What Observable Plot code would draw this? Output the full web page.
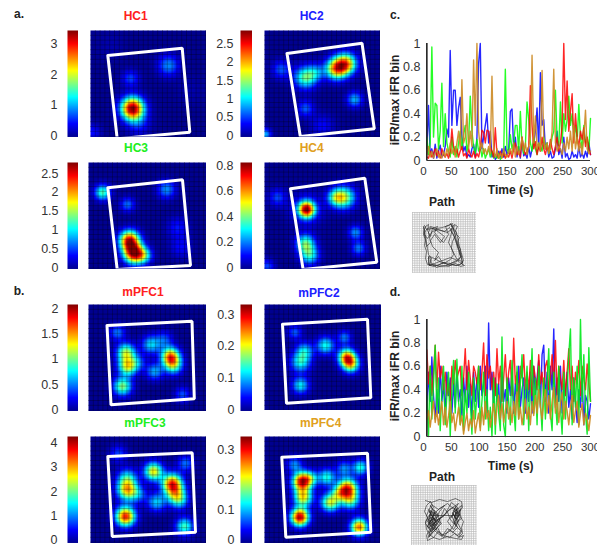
<!DOCTYPE html>
<html><head><meta charset="utf-8">
<script src="https://cdn.jsdelivr.net/npm/d3@7"></script>
<script src="https://cdn.jsdelivr.net/npm/@observablehq/plot@0.6"></script>
<style>
html,body{margin:0;padding:0;background:#fff;overflow:hidden}
#c{position:relative;width:597px;height:547px;overflow:hidden;font-family:"Liberation Sans",Arial,sans-serif}
#c svg{position:absolute;background:transparent}
.t{position:absolute;transform:translate(-50%,-50%);font-weight:bold;font-size:12px;white-space:nowrap;line-height:1}
</style></head><body><div id="c"></div>
<script>
// Firing-rate fields: each blob is [x, y, peak rate, spread], in arena units
const hc1Blobs=[[42,78,3.4,8],[78,35,.9,7.5],[40,48,.65,6],[48,93,.5,8],[2,102,.45,6],[20,15,.12,10],[100,60,.12,10]];
const hc2Blobs=[[71.5,38.3,1.95,7.4],[81.5,33.3,1.95,7.4],[41,47,1.35,7.8],[51.5,41.7,.6,6],[16.5,39,.6,6.5],[90,69,.85,5.6],[41,78,.6,6],[58,95,.35,8],[1,104,.85,4]];
const hc3Blobs=[[41,78,2.45,7],[45,91,2.45,7],[55,93,1.05,6],[14,30,1.25,5.5],[78,27,.75,6.5],[39,42,.65,5.2],[89,65,.4,7.5],[92,85,.35,7.5]];
const hc4Blobs=[[42,47,.7,5.6],[42,47,.15,11],[80,35,.42,7.8],[71,35,.3,6],[41,81,.38,6.6],[45,93,.32,6.6],[13,35,.16,6.2],[91,70,.22,5.2],[94,86,.2,5.2],[3,104,.16,5]];
const pfc1Blobs=[[82,52,1.5,6.4],[85,61,.9,6.4],[37.5,48,1.1,6.5],[39,62,1.2,6.5],[34,82,1.05,6.5],[29,28,.5,5.5],[62.5,40,.7,6.5],[66,67,.6,6],[94,90,.42,5.5],[49,58,.4,6],[76,35,.4,6]];
const pfc2Blobs=[[82.3,52.5,.23,6],[86.3,60,.18,6],[61,41,.13,6.2],[36,58,.125,7],[40,46.5,.105,6.2],[36,81,.12,6],[30.5,28,.07,5],[80,33,.08,5]];
const pfc3Blobs=[[81.7,47.3,3.5,7],[85.7,59,2.0,7],[35,80,3.7,6.8],[36.7,54,2.7,7],[36.7,42,1.6,7],[63,35,2.7,6.5],[66,65.7,1.4,6.4],[94,90,1.9,6.2],[95,27,1,5.8],[28,17,.8,6],[48,58,.9,6],[90,65,.8,6]];
const pfc4Blobs=[[37.3,45,.31,6.5],[46.3,42,.11,5.5],[38.6,60.7,.22,6.5],[35.3,80.7,.33,6.3],[83,52,.28,7],[86,64,.15,6.5],[65.6,66,.2,6.5],[74.6,57,.11,5.5],[62.3,40.7,.14,6],[96,31,.14,5.5],[94.6,90.7,.27,6],[30,28,.09,5.5],[79.6,32,.09,5.5]];

// Arena outlines (white box) in arena units
const hc1Box=[[17.3,25],[91.7,17.7],[99.3,101.7],[26.7,108.3]];
const hc2Box=[[22.5,23],[97.5,12.7],[109.8,98.3],[35.8,106]];
const hc3Box=[[19.3,25.3],[94,17.3],[102,103],[28.7,107]];
const hc4Box=[[26,26.3],[100.3,15.7],[112.3,99.7],[38.6,107]];
const pfc1Box=[[18.5,21],[103.5,16.7],[105.8,94.3],[22.5,100.3]];
const pfc2Box=[[18,19.8],[103,14.8],[106.3,93.2],[22,98.8]];
const pfc3Box=[[17.3,20],[101.7,16.3],[105,95.7],[21.7,100]];
const pfc4Box=[[17.3,20.7],[103,16.7],[106.3,95.7],[21.3,100.7]];

// Colour-bar maxima and tick labels
const hc1Max=3.47, hc2Max=2.88, hc3Max=2.82, hc4Max=.835, pfc1Max=2.1, pfc2Max=.335, pfc3Max=4.36, pfc4Max=.355;
const hc1Ticks=[0,1,2,3], hc2Ticks=[0,.5,1,1.5,2,2.5], hc3Ticks=[0,.5,1,1.5,2,2.5], hc4Ticks=[0,.2,.4,.6,.8];
const pfc1Ticks=[0,.5,1,1.5,2], pfc2Ticks=[0,.1,.2,.3], pfc3Ticks=[0,1,2,3,4], pfc4Ticks=[0,.1,.2,.3];

// Jet colour ramp
const jetStops=[0,.125,.375,.625,.875,1];
const jetColors=["#00008f","#0000ff","#00ffff","#ffff00","#ff0000","#800000"];

// Instantaneous firing rate traces, 3 s apart from t = 6 s
const cBlue=[.10,.47,.05,.10,.02,.14,.02,.08,.13,.03,.05,.12,.27,.20,.94,.30,.60,.60,.30,.45,.54,.20,.08,.12,.03,.05,.03,.10,.14,.03,.20,.83,1.0,.10,.20,.30,.40,.15,.25,.03,.06,.01,.03,.08,.03,.10,.03,.12,.05,.08,.42,.44,.10,.20,.03,.12,.02,.20,.04,.06,.02,.12,.03,.10,.15,.25,.45,.10,.75,.30,.35,.10,.15,.03,.08,.02,.03,.10,.25,.05,.10,.02,.20,.03,.06,.01,.02,.08,.03,.05,.02,.12,.03,.06,.02,.08,.03,.15,.05];
const cGreen=[.20,.05,.15,.97,.20,.49,.47,.10,.25,.66,.12,.40,.15,.08,.03,.20,.05,.12,.03,.15,.25,.10,.22,.30,.08,.15,.55,.25,.12,.06,.18,.08,.12,.03,.10,.02,.06,.10,.03,.08,.02,.05,.02,.06,.01,.03,.05,.78,.10,.06,.22,.10,.15,.30,.30,.08,.42,.12,.06,.12,.50,.35,.15,.08,.20,.10,.05,.15,.12,.08,.20,.10,.15,.06,.10,.20,.25,.60,.18,.12,.50,.15,.40,.25,.35,.55,.30,.40,.20,.30,.15,.48,.20,.10,.30,.15,.20,.08,.36];
const cRed=[.03,.02,.08,.03,.06,.10,.04,.08,.02,.10,.05,.03,.06,.02,.08,.27,.12,.05,.10,.03,.08,.12,.04,.06,.02,.10,.05,.03,.08,.02,.06,.03,.10,.26,.24,.15,.26,.25,.12,.08,.03,.28,.05,.02,.08,.03,.06,.02,.05,.03,.08,.02,.10,.15,.05,.08,.03,.20,.10,.05,.08,.12,.64,.30,.10,.16,.05,.12,.08,.20,.10,.05,.12,.08,.18,.10,.05,.12,.20,.08,.15,.30,1.0,.35,.68,.25,.42,.57,.15,.40,.20,.12,.25,.18,.28,.12,.20,.10,.05];
const cOrange=[.05,.12,.03,.08,.02,.06,.10,.03,.05,.02,.08,.03,.10,.05,.15,.06,.10,.03,.15,.25,.10,.69,.15,.20,.40,.10,.25,.12,.86,.30,1.0,.25,.10,.15,.06,.10,.05,.12,.06,.72,.08,.03,.10,.02,.06,.02,.10,.05,.03,.08,.10,.05,.15,.03,.12,.05,.10,.20,.08,.15,.05,.12,.20,.90,.15,.38,.10,.15,.08,.77,.20,.10,.15,.06,.12,.25,.78,.15,.08,.12,.10,.05,.15,.08,.20,.10,.25,.08,.30,.10,.20,.08,.15,.05,.20,.43,.10,.06,.08];
const dBlue=[.20,.55,.30,.68,.35,.15,.40,.20,.60,.30,.45,.20,.55,.35,.50,.20,.45,.25,.55,.30,.40,.18,.50,.30,.60,.25,.45,.15,.55,.30,.50,.25,.60,.35,.45,.60,.20,.97,.40,.55,.25,.50,.30,.45,.15,.55,.30,.40,.20,.50,.35,.55,.20,.45,.30,.60,.25,.40,.50,.20,.45,.30,.55,.20,.60,.35,.50,.65,.25,.70,.78,.30,.55,.20,.60,.40,.92,.25,.50,.30,.60,.20,.45,.35,.55,.25,.40,.15,.50,.30,.12,.40,.25,.50,.10,.35,.30,.15,.28];
const dRed=[.74,.45,.60,.35,.55,.78,.40,.72,.50,.60,.40,.55,.35,.45,.30,.60,.45,.65,.50,.55,.60,.35,.50,.75,.40,.65,.50,.35,.60,.55,.45,.60,.40,.55,.80,.35,.70,.50,.60,.40,.55,.35,.75,.45,.60,.30,.50,.70,.40,.55,.65,.35,.84,.45,.55,.30,.60,.50,.70,.40,.55,.40,.65,.35,.60,.50,.40,.70,.45,.55,.35,.60,.65,.40,.50,.70,.45,.82,.35,.60,.50,.40,.65,.35,.55,.75,.40,.60,.30,.55,.45,.65,.35,.60,.50,.40,.62,.45,.30];
const dGreen=[.35,0,.60,.15,.45,.78,.20,.50,.05,.40,.60,.10,.35,.55,0,.40,.65,.20,.66,.30,.10,.60,.05,.40,.20,.55,.30,.02,.50,.15,.35,.60,.08,.30,.55,.15,.40,.05,.25,0,.50,.02,.45,.20,.05,.85,.10,0,.50,.30,.10,.65,.25,.05,.60,.15,.45,.70,.10,.35,.60,.05,.40,.75,.20,.50,.10,.60,.30,.05,.50,.15,.45,.75,.20,.05,.55,.30,.10,.60,.25,.02,.55,.15,.40,.70,.92,.10,.50,.25,.60,.10,1.0,.30,.70,.20,.02,.76,.30];
const dOrange=[.15,.22,.08,.20,.30,.12,.22,.10,.20,.30,.10,.25,.08,.18,.30,.12,.20,.05,.15,.25,.10,.18,.02,.12,.20,.05,.15,.08,.22,.03,.12,.20,.05,.25,.10,.30,.15,.22,.08,.18,.28,.10,.25,.35,.15,.28,.12,.22,.30,.15,.25,.12,.30,.18,.38,.15,.25,.10,.20,.32,.15,.25,.10,.30,.18,.35,.20,.40,.25,.15,.30,.40,.20,.35,.15,.30,.42,.20,.35,.12,.28,.38,.15,.30,.22,.10,.25,.35,.12,.22,.30,.08,.20,.28,.10,.20,.15,.05,.18];

// Animal paths
const cPathX=[12,14,18,24,30,36,40,39,41,38,42,44,46,48,49,50,47,44,40,36,30,24,20,17,19,16,15,14,13,12,11,12,15,20,26,32,37,40,43,46,48,46,42,38,30,26,22,26,20,18,22,28,32,24,18,16,18,14,13,11,14,20,28,35,40,38,36,40,44,49,50,45,38,30,22,17,16,16,22,30,38,44,48,50,49,47,48,46,45,47,44,43,45,42,41,43,40,39,41,38,33,27,21,15,13,14,12,13,11,13,16,15,18,20,25,22,27,31,36,33,38,44,47,51,49,52,48,43,37,31,25,19,17,22,29,36,44,49,46,44,42,40,38];
const cPathY=[13,17,14,16,15,13,11,14,13,18,24,30,36,40,46,50,52,53,52,54,53,55,52,53,46,42,36,30,24,18,14,22,26,19,17,19,15,20,28,38,44,48,50,51,50,44,48,40,34,28,22,30,24,18,15,20,30,34,28,22,17,16,18,20,16,24,30,38,46,49,52,48,45,48,51,53,44,52,53,54,52,53,52,50,46,41,37,33,29,25,22,18,14,12,17,23,29,35,42,47,50,52,54,52,46,39,33,26,20,14,12,18,24,16,14,20,26,30,22,14,12,20,34,48,51,53,54,51,53,50,53,51,44,46,50,52,48,44,36,28,20,14,11];
const dPathX=[14,20,28,36,44,50,51,47,49,52,50,51,47,52,50,44,36,28,22,16,15,18,14,16,13,15,19,22,18,23,17,21,25,20,16,22,27,22,18,24,20,17,23,28,33,28,24,32,38,44,47,42,48,45,41,47,50,43,46,40,36,42,47,44,49,42,38,30,26,20,17,24,30,22,18,26,34,40,46,43,50,46,38,32,25,19,15,20,27,36,44,50,48,18,20,17,19,22,20,24,21,18,23,19,16,21,25,22,19,17,20,24,27,23,20,25,29,33,37,42,46,44,41,45,43,47,45,42,44,48,46,43,40,44,47,42,39,36,33,30,27,24,20,17,19,22,26,31,36,41,46,50,47,43,38,32,27,22,18,15,14,17,21,19,23,20,18,24,29,26,22,25,19,16,20];
const dPathY=[15,17,14,16,13,16,22,27,32,36,42,48,52,50,54,53,51,54,52,55,50,44,38,32,26,20,16,22,27,30,34,38,29,26,36,40,33,44,47,36,30,24,28,23,20,26,35,31,24,20,18,25,29,34,27,23,33,38,42,30,36,44,36,28,24,40,46,50,42,48,52,44,38,33,42,35,28,17,22,31,45,50,44,52,47,40,30,19,24,18,25,20,30,30,34,38,28,33,40,36,31,26,29,35,41,44,38,32,37,42,46,34,30,27,35,40,33,29,25,22,26,31,28,34,30,27,24,36,40,33,29,26,32,21,30,38,34,27,23,30,36,41,47,51,44,38,46,50,43,47,42,46,51,48,52,50,46,52,49,44,36,31,24,20,27,33,39,44,37,28,24,32,35,41];

const traceTicksY=[0,.2,.4,.6,.8,1], traceTicksX=[0,50,100,150,200,250,300];
const root=document.getElementById("c");
const textColor="#333";
const fontFamily='"Liberation Sans",Arial,sans-serif';

function place(svg,left,top){svg.style.left=left+"px";svg.style.top=top+"px";root.appendChild(svg);}
function label(txt,x,y,color="#222",rot=0){
  const d=document.createElement("div");d.className="t";d.textContent=txt;
  d.style.left=x+"px";d.style.top=y+"px";d.style.color=color;
  if(rot)d.style.transform=`translate(-50%,-50%) rotate(${rot}deg)`;
  root.appendChild(d);
}
function jet(max){return {type:"linear",domain:jetStops.map(s=>s*max),range:jetColors,interpolate:"rgb",clamp:true};}

function colorbar(left,top,h,max,ticks,pad,dy){
  const w=11.6, m=34, v=8;
  const svg=Plot.plot({width:m+w,height:h+2*v,marginLeft:m,marginRight:0,marginTop:v,marginBottom:v,
    style:{fontFamily},
    x:{domain:[0,1],axis:null},y:{domain:[0,max]},color:jet(max),
    marks:[
      Plot.raster({x1:0,x2:1,y1:0,y2:max,pixelSize:.5,fill:(x,y)=>y}),
      Plot.axisY({ticks,tickSize:0,tickPadding:pad,tickFormat:d=>String(d),fontSize:12.5,label:null,color:textColor,anchor:"left",dy})
    ]});
  place(svg,left-m,top-v);
}
function field(left,top,w,h,blobs,box,max){
  const gridX=d3.range(4.8,w,4.8), gridY=d3.range(4.8,h,4.8);
  const val=(x,y)=>d3.sum(blobs,([a,b,p,s])=>p*Math.exp(-((x-a)**2+(y-b)**2)/(2*s*s)));
  const svg=Plot.plot({width:w,height:h,margin:0,x:{domain:[0,w],axis:null},y:{domain:[h,0],axis:null},color:jet(max),
    marks:[
      Plot.raster({x1:0,x2:w,y1:h,y2:0,pixelSize:1,fill:val}),
      Plot.ruleX(gridX,{stroke:"#000",strokeOpacity:.45,strokeWidth:.6}),
      Plot.ruleY(gridY,{stroke:"#000",strokeOpacity:.45,strokeWidth:.6}),
      Plot.line([...box,box[0]],{x:d=>d[0],y:d=>d[1],stroke:"#fff",strokeWidth:3,strokeLinejoin:"miter",curve:"linear",clip:true})
    ]});
  place(svg,left,top);
}
function traces(top,y0,series){
  const w=217,L=43,h=117;
  const mt=y0-top;
  const time=d3.range(99).map(i=>6+3*i);
  const marks=[];
  series.forEach(([vals,color,op])=>marks.push(Plot.lineY(vals,{x:(d,i)=>time[i],y:d=>d,stroke:color,strokeWidth:1.4,strokeOpacity:op,curve:"linear"})));
  marks.push(Plot.ruleY([0],{x1:6,x2:300,stroke:"#333",strokeWidth:1}));
  marks.push(Plot.ruleX([6],{y1:0,y2:1,stroke:"#222",strokeWidth:1.6}));
  marks.push(Plot.axisY({ticks:traceTicksY,tickSize:0,tickPadding:3,tickFormat:d=>String(d),fontSize:12.5,label:null,color:textColor,anchor:"left"}));
  marks.push(Plot.axisX({ticks:traceTicksX,tickSize:0,tickPadding:6,tickFormat:d=>String(d),fontSize:11.5,label:null,color:textColor,anchor:"bottom"}));
  const svg=Plot.plot({width:w,height:mt+h+22,marginLeft:L,marginRight:7,marginTop:mt,marginBottom:22,style:{fontFamily},
    x:{domain:[0,300]},y:{domain:[0,1]},marks});
  place(svg,380,top);
}
function pathPanel(left,top,w,h,xs,ys){
  const gx=d3.range(0,w+.1,2.3), gy=d3.range(0,h+.1,2.3);
  const n=Math.min(xs.length,ys.length);
  const svg=Plot.plot({width:w,height:h,margin:0,x:{domain:[0,w],axis:null},y:{domain:[h,0],axis:null},
    marks:[
      Plot.ruleX(gx,{stroke:"#bbb",strokeWidth:.7}),
      Plot.ruleY(gy,{stroke:"#bbb",strokeWidth:.7}),
      Plot.line(d3.range(n),{x:i=>xs[i],y:i=>ys[i],stroke:"#222",strokeWidth:.6,curve:"linear"})
    ]});
  place(svg,left,top);
}

const H=106.5;
[[66.7,30,hc1Max,hc1Ticks,10,-1],[240.3,30,hc2Max,hc2Ticks,7,-1],[66.7,162.3,hc3Max,hc3Ticks,9,-1],[240.3,162.3,hc4Max,hc4Ticks,7,-1],
 [66.7,304,pfc1Max,pfc1Ticks,9,-1],[240.3,303.7,pfc2Max,pfc2Ticks,6,-1],[66.7,436,pfc3Max,pfc3Ticks,10,-2.5],[240.3,436,pfc4Max,pfc4Ticks,6,-2.5]]
 .forEach(([l,t,m,tk,p,dy])=>colorbar(l,t,H,m,tk,p,dy));

field(90,30,116,H,hc1Blobs,hc1Box,hc1Max);
field(263.5,30,116.5,H,hc2Blobs,hc2Box,hc2Max);
field(88,162,118,H,hc3Blobs,hc3Box,hc3Max);
field(263.7,162,116.5,H,hc4Blobs,hc4Box,hc4Max);
field(87.5,304,118,H,pfc1Blobs,pfc1Box,pfc1Max);
field(263.7,303.5,117,H,pfc2Blobs,pfc2Box,pfc2Max);
field(90,436,116,H,pfc3Blobs,pfc3Box,pfc3Max);
field(263.7,436,116.5,H,pfc4Blobs,pfc4Box,pfc4Max);

traces(30,43,[[cBlue,"#0000ff",.85],[cGreen,"#00ff00",.85],[cRed,"#ff0000",.85],[cOrange,"#cc8a22",.9]]);
traces(306,319,[[dBlue,"#0000ff",.85],[dRed,"#ff0000",.85],[dGreen,"#00e81a",.9],[dOrange,"#cc8a22",.95]]);
pathPanel(411.7,212,64.3,60.7,cPathX,cPathY);
pathPanel(411,485,65.5,60,dPathX,dPathY);

label("a.",19,14);label("b.",19,291);label("c.",395,15);label("d.",395,291.7);
label("HC1",135.7,16,"#ff2020");label("HC2",311.7,15.7,"#2020ff");label("HC3",136,148,"#20ee20");label("HC4",311.7,148,"#e0a020");
label("mPFC1",143,291.7,"#ff2020");label("mPFC2",319,293.3,"#2020ff");label("mPFC3",145,423.3,"#20ee20");label("mPFC4",320.7,423.3,"#e0a020");
label("iFR/max iFR bin",395,100,"#222",-90);label("Time (s)",510.7,190);label("Path",442,202);
label("iFR/max iFR bin",395,376,"#222",-90);label("Time (s)",510.7,465.7);label("Path",442,476.7);
</script></body></html>
